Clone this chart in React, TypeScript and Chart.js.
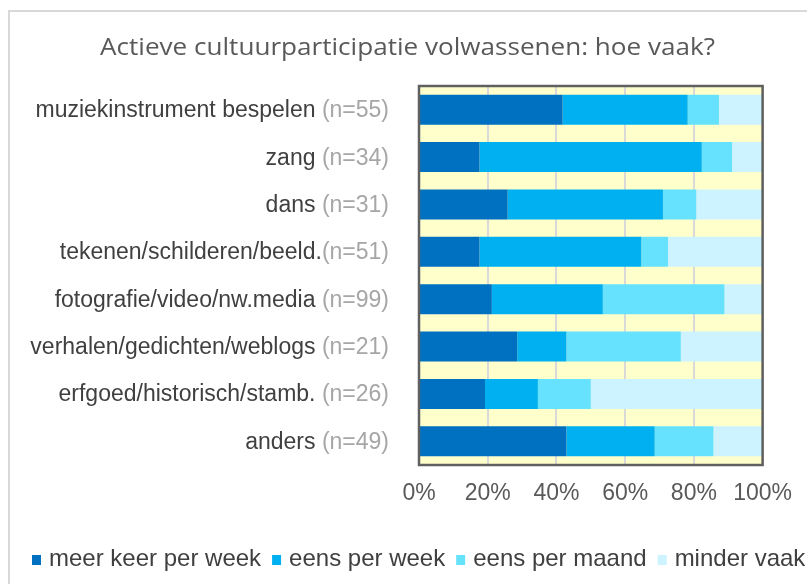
import { useEffect, useRef } from "react";
import { Chart, registerables } from "chart.js";

Chart.register(...registerables);

const titleText = "Actieve cultuurparticipatie volwassenen: hoe vaak?";
const categories = [
  "muziekinstrument bespelen (n=55)",
  "zang (n=34)",
  "dans (n=31)",
  "tekenen/schilderen/beeld.(n=51)",
  "fotografie/video/nw.media (n=99)",
  "verhalen/gedichten/weblogs (n=21)",
  "erfgoed/historisch/stamb. (n=26)",
  "anders (n=49)",
];
const seriesNames = ["meer keer per week", "eens per week", "eens per maand", "minder vaak"];
const meerKeerPerWeek = [41.8, 17.6, 25.8, 17.6, 21.2, 28.6, 19.2, 42.9];
const eensPerWeek = [36.4, 64.7, 45.2, 47.1, 32.3, 14.3, 15.4, 25.7];
const eensPerMaand = [9.1, 8.8, 9.7, 7.8, 35.4, 33.3, 15.4, 17.1];
const minderVaak = [12.7, 8.9, 19.3, 27.5, 11.1, 23.8, 50.0, 14.3];
const xTicks = [0, 20, 40, 60, 80, 100];
const colors = ["#0070C0", "#00B0F0", "#66E2FF", "#CCF3FF"];

const FONT = "'Liberation Sans', Arial, sans-serif";

const framePlugin = {
  id: "frame",
  beforeDraw(chart: any) {
    const { ctx, chartArea } = chart;
    ctx.save();
    ctx.fillStyle = "#ffffff";
    ctx.fillRect(0, 0, chart.width, chart.height);
    ctx.fillStyle = "#d9d9d9";
    ctx.fillRect(8, 10, 2, chart.height);
    ctx.fillRect(8, 10, chart.width, 2);
    ctx.fillStyle = "#FFFFCC";
    ctx.fillRect(chartArea.left, chartArea.top, chartArea.right - chartArea.left, chartArea.bottom - chartArea.top);
    ctx.restore();
  },
  afterDatasetsDraw(chart: any) {
    const { ctx, chartArea } = chart;
    ctx.save();
    ctx.strokeStyle = "#606060";
    ctx.lineWidth = 2.5;
    ctx.strokeRect(chartArea.left, chartArea.top, chartArea.right - chartArea.left, chartArea.bottom - chartArea.top);
    ctx.restore();
  },
  afterDraw(chart: any) {
    const { ctx } = chart;
    const yScale = chart.scales.y;
    ctx.save();
    // title
    ctx.font = "24px 'Open Sans', sans-serif";
    ctx.fillStyle = "#595959";
    ctx.textBaseline = "alphabetic";
    ctx.textAlign = "left";
    const tw = ctx.measureText(titleText).width;
    const targetW = 615;
    ctx.save();
    ctx.translate(100, 55);
    ctx.scale(targetW / tw, 1);
    ctx.fillText(titleText, 0, 0);
    ctx.restore();

    // category labels, two colours
    ctx.font = "23px " + FONT;
    categories.forEach((label: string, i: number) => {
      const y = yScale.getPixelForValue(i) + 7.5;
      const idx = label.indexOf("(");
      const name = label.slice(0, idx);
      const n = label.slice(idx);
      const right = 389;
      const nw = ctx.measureText(n).width;
      ctx.textAlign = "right";
      ctx.fillStyle = "#a6a6a6";
      ctx.fillText(n, right, y);
      ctx.fillStyle = "#404040";
      ctx.fillText(name, right - nw, y);
    });

    // legend
    ctx.font = "24px " + FONT;
    ctx.textAlign = "left";
    let x = 32;
    chart.data.datasets.forEach((ds: any) => {
      ctx.fillStyle = ds.backgroundColor;
      ctx.fillRect(x, 555, 9, 10);
      ctx.fillStyle = "#404040";
      ctx.fillText(ds.label, x + 17, 566);
      x += 17 + ctx.measureText(ds.label).width + 11;
    });
    ctx.restore();
  },
};

export default function App() {
  const ref = useRef<HTMLCanvasElement | null>(null);
  useEffect(() => {
    if (!ref.current) return;
    const data = [meerKeerPerWeek, eensPerWeek, eensPerMaand, minderVaak];
    const chart = new Chart(ref.current, {
      type: "bar",
      data: {
        labels: categories,
        datasets: seriesNames.map((name, i) => ({
          label: name,
          data: data[i],
          backgroundColor: colors[i],
          borderWidth: 0,
          barPercentage: 0.634,
          categoryPercentage: 1,
        })),
      },
      options: {
        indexAxis: "y",
        animation: false,
        responsive: false,
        devicePixelRatio: 1,
        layout: { padding: { left: 0, top: 86, right: 42, bottom: 69 } },
        plugins: {
          legend: { display: false },
          title: { display: false },
          tooltip: { enabled: false },
        },
        scales: {
          x: {
            stacked: true,
            min: 0,
            max: 100,
            afterBuildTicks: (s: any) => {
              s.ticks = xTicks.map((v) => ({ value: v }));
            },
            afterFit: (s: any) => {
              s.height = 50;
            },
            border: { display: false },
            grid: { color: "#d9d9d9", lineWidth: 2, drawTicks: false },
            ticks: {
              padding: 15,
              color: "#595959",
              font: { family: FONT, size: 23 },
              callback: (v: any) => v + "%",
            },
          },
          y: {
            stacked: true,
            border: { display: false },
            grid: { display: false },
            ticks: { display: false },
            afterFit: (s: any) => {
              s.width = 419;
            },
          },
        },
      },
      plugins: [framePlugin],
    });
    return () => chart.destroy();
  }, []);
  return (
    <div style={{ position: "fixed", left: 0, top: 0, width: 807, height: 584 }}>
      <canvas ref={ref} width={807} height={584} />
    </div>
  );
}
